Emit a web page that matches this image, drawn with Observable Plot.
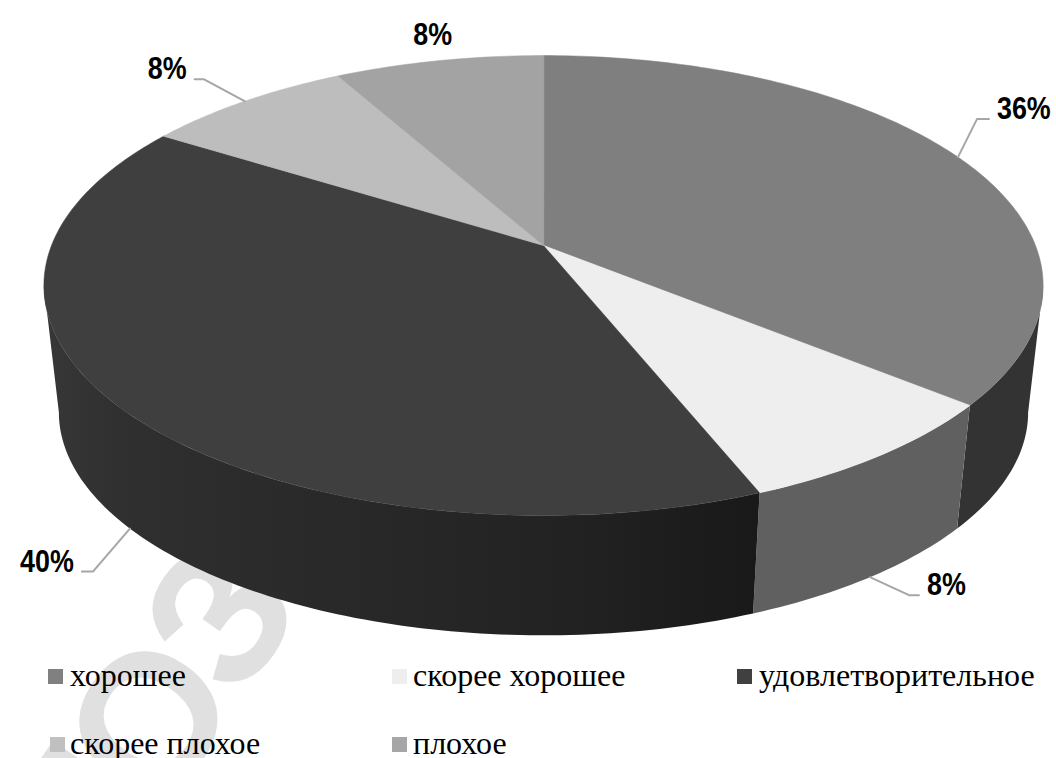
<!DOCTYPE html>
<html><head><meta charset="utf-8">
<script src="https://cdn.jsdelivr.net/npm/d3@7"></script>
<script src="https://cdn.jsdelivr.net/npm/@observablehq/plot@0.6"></script>
<style>
body{margin:0;background:#fff;}
#wrap{position:relative;width:1056px;height:758px;overflow:hidden;}
#wrap svg{position:absolute;left:0;top:0;}
.leg{position:absolute;font-family:"Liberation Serif","Times New Roman",serif;font-size:32px;line-height:32px;color:#000;white-space:nowrap;}
.sw{position:absolute;width:15px;height:15px;}
</style></head><body><div id="wrap"></div>
<script>
// ---- data ----
const categories = ["хорошее", "скорее хорошее", "удовлетворительное", "скорее плохое", "плохое"];
const values = [36, 8, 40, 8, 8];
const labels = ["36%", "8%", "40%", "8%", "8%"];
const topColors = ["#7f7f7f", "#eeeeee", "#3f3f3f", "#bdbdbd", "#a3a3a3"];
const legendColors = ["#808080", "#eeeeee", "#404040", "#c0c0c0", "#a6a6a6"];
const wallColors = ["#333333", "#606060", "url(#wallGrad)", "#4c4c4c", "#424242"];
const watermarkLetters = ["П", "О", "З"];

// ---- layout / geometry (styles, not data) ----
const CX = 543, CY = 245, RX = 492, RY = 223;   // projected top centre & radii
const K = 0.174, SB = 0.97, H = 0.574;          // perspective, bottom scale, depth
// label leader offsets in px: [elbow dx, elbow dy, horizontal length]
const leaderOffsets = [[19, -38, 12], [39, 18, 10], [-37, 43, -11], [-41, -22, -9], null];
const legendPos = [[48, 669, 70], [392, 669, 413], [737, 669, 759], [50, 737, 70], [392, 737, 413]];
const wmCenters = [[78, 826], [152, 722], [222, 618]];
const wallGradStops = [[0, "#373737"], [0.12, "#2f2f2f"], [0.35, "#2a2a2a"], [0.7, "#232323"], [1, "#191919"]];

const rad = d => d * Math.PI / 180;
function proj(deg, bottom) {
  const t = rad(deg), X = Math.sin(t), Z = Math.cos(t), w = 1 + K * Z;
  let u = X / w, v = Z / w;
  if (bottom) { u *= SB; v = SB * v - H; }
  return [u, v];
}
const toU = px => (px - CX) / RX;
const toV = py => (CY - py) / RY;
const toPx = ([u, v]) => [CX + u * RX, CY - v * RY];

const total = d3.sum(values);
let acc = 0;
const slices = values.map((val, i) => {
  const a0 = acc / total * 360; acc += val; const a1 = acc / total * 360;
  return {i, a0, a1, mid: (a0 + a1) / 2};
});

function arc(a0, a1, bottom) {
  const n = Math.max(2, Math.ceil(Math.abs(a1 - a0)));
  return d3.range(n + 1).map(j => proj(a0 + (a1 - a0) * j / n, bottom));
}

// top faces
const topRows = [];
slices.forEach(s => {
  topRows.push({id: s.i, u: 0, v: 0, c: topColors[s.i]});
  arc(s.a0, s.a1, false).forEach(([u, v]) => topRows.push({id: s.i, u, v, c: topColors[s.i]}));
});

// side walls (visible front part)
const tA = Math.acos(-K) * 180 / Math.PI, tB = 360 - tA;
const wallRows = [];
slices.forEach(s => {
  const lo = Math.max(s.a0, tA), hi = Math.min(s.a1, tB);
  if (lo >= hi) return;
  [...arc(lo, hi, false), ...arc(hi, lo, true)].forEach(([u, v]) => wallRows.push({id: s.i, u, v, c: wallColors[s.i]}));
});

// labels and leaders
const leaderRows = [], labelRows = [];
slices.forEach(s => {
  const onWall = s.mid > tA && s.mid < tB;
  const [rx, ry] = toPx(proj(s.mid, onWall));
  const off = leaderOffsets[s.i];
  if (off) {
    const ex = rx + off[0], ey = ry + off[1], hx = ex + off[2];
    [[rx, ry], [ex, ey], [hx, ey]].forEach(([x, y]) => leaderRows.push({id: s.i, u: toU(x), v: toV(y)}));
    const right = off[2] > 0;
    labelRows.push({u: toU(hx + (right ? 8 : -8)), v: toV(ey), t: labels[s.i], a: right ? "start" : "end"});
  } else {
    labelRows.push({u: toU(rx - 6), v: toV(ry - 16), t: labels[s.i], a: "middle"});
  }
});

const wmRows = watermarkLetters.map((t, i) => ({u: toU(wmCenters[i][0]), v: toV(wmCenters[i][1]), t}));

const labelFont = {lineAnchor: "bottom", fontSize: 32, fontWeight: "bold",
  fontFamily: "Liberation Sans, Arial, sans-serif", fill: "#000"};

const chart = Plot.plot({
  width: 1056, height: 758,
  margin: 0,
  x: {domain: [-1, 1], range: [CX - RX, CX + RX], axis: null},
  y: {domain: [-1, 1], range: [CY + RY, CY - RY], axis: null},
  color: {type: "identity"},
  style: {background: "white"},
  marks: [
    Plot.text(wmRows, {x: "u", y: "v", text: "t", rotate: -55, fontSize: 190, fontWeight: "bold",
      fontFamily: "Liberation Sans, Arial, sans-serif", fill: "#e0e0e0"}),
    Plot.line(wallRows, {x: "u", y: "v", z: "id", fill: "c", curve: "linear-closed"}),
    Plot.line(topRows, {x: "u", y: "v", z: "id", fill: "c", stroke: "c", strokeWidth: 0.5, curve: "linear-closed"}),
    Plot.line(leaderRows, {x: "u", y: "v", z: "id", stroke: "#a6a6a6", strokeWidth: 2}),
    Plot.text(labelRows.filter(d => d.a === "start"), {x: "u", y: "v", text: "t", textAnchor: "start", ...labelFont}),
    Plot.text(labelRows.filter(d => d.a === "end"), {x: "u", y: "v", text: "t", textAnchor: "end", ...labelFont}),
    Plot.text(labelRows.filter(d => d.a === "middle"), {x: "u", y: "v", text: "t", textAnchor: "middle", ...labelFont})
  ]
});

// gradient for the shaded wall
const ns = "http://www.w3.org/2000/svg";
const defs = document.createElementNS(ns, "defs");
const grad = document.createElementNS(ns, "linearGradient");
grad.setAttribute("id", "wallGrad");
grad.setAttribute("gradientUnits", "userSpaceOnUse");
grad.setAttribute("x1", 43); grad.setAttribute("x2", 760); grad.setAttribute("y1", 0); grad.setAttribute("y2", 0);
wallGradStops.forEach(([o, c]) => {
  const st = document.createElementNS(ns, "stop");
  st.setAttribute("offset", o); st.setAttribute("stop-color", c);
  grad.appendChild(st);
});
defs.appendChild(grad);
chart.insertBefore(defs, chart.firstChild);

const wrap = document.getElementById("wrap");
wrap.appendChild(chart);

// narrow the bold percentage labels (Arial Narrow look), scaling about each anchor
chart.querySelectorAll("text").forEach(t => {
  if (!/%$/.test(t.textContent.trim())) return;
  const tr = t.getAttribute("transform");
  if (tr) {
    t.setAttribute("transform", tr + " scale(0.84,1)");
  } else {
    const x = +t.getAttribute("x") || 0, y = +t.getAttribute("y") || 0;
    t.setAttribute("transform", `translate(${x},${y}) scale(0.84,1) translate(${-x},${-y})`);
  }
});

categories.forEach((name, i) => {
  const [sx, sy, tx] = legendPos[i];
  const sw = document.createElement("div");
  sw.className = "sw"; sw.style.left = sx + "px"; sw.style.top = sy + "px"; sw.style.background = legendColors[i];
  wrap.appendChild(sw);
  const t = document.createElement("div");
  t.className = "leg"; t.textContent = name; t.style.left = tx + "px"; t.style.top = (sy + 17 - 27) + "px";
  wrap.appendChild(t);
});
</script>
</body></html>
